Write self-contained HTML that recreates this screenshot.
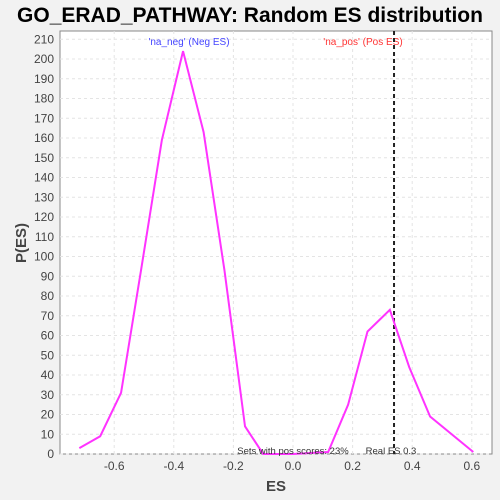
<!DOCTYPE html>
<html><head><meta charset="utf-8"><style>
body{margin:0;background:#f2f2f2;font-family:"Liberation Sans",sans-serif}
</style></head><body>
<svg id="chart" width="500" height="500" xmlns="http://www.w3.org/2000/svg" style="display:block">
<rect width="500" height="500" fill="#f2f2f2"/>
<text x="250" y="22" text-anchor="middle" font-size="21" font-weight="bold" fill="#000">GO_ERAD_PATHWAY: Random ES distribution</text>
<rect x="60" y="31" width="432" height="423" fill="#fff" stroke="#888"/>
<g id="grid"></g><g id="ticks"></g>
<text x="276" y="491" text-anchor="middle" font-size="15" font-weight="bold" fill="#444">ES</text>
<text transform="translate(26,243) rotate(-90)" text-anchor="middle" font-size="15" font-weight="bold" fill="#444">P(ES)</text>
<text x="189" y="45" text-anchor="middle" font-size="10" fill="#4444ff">'na_neg' (Neg ES)</text>
<text x="363" y="45" text-anchor="middle" font-size="10" fill="#ff3333">'na_pos' (Pos ES)</text>
<g id="marks"></g>
<text x="293" y="454" text-anchor="middle" font-size="9.5" fill="#333">Sets with pos scores: 23%</text>
<text x="391" y="454" text-anchor="middle" font-size="9.5" fill="#333">Real ES 0.3</text>
</svg>
<script>
const esValues=[-0.717,-0.647,-0.577,-0.51,-0.44,-0.369,-0.30,-0.23,-0.161,-0.10,0.0,0.118,0.185,0.25,0.325,0.39,0.46,0.605];
const probValues=[3,9,31,93,159,204,163,93,14,0,0,1,25,62,73,44,19,1];
const xTicks=[-0.6,-0.4,-0.2,0.0,0.2,0.4,0.6];
const yTicks=[0,10,20,30,40,50,60,70,80,90,100,110,120,130,140,150,160,170,180,190,200,210];
const realES=0.339;
const NS="http://www.w3.org/2000/svg";
const xs=v=>293+v*298, ys=v=>454-v*1.975;
function mk(t,a,p){const e=document.createElementNS(NS,t);for(const k in a)e.setAttribute(k,a[k]);document.getElementById(p).appendChild(e);return e;}
xTicks.forEach(t=>{
 const g=mk('line',{x1:xs(t),x2:xs(t),y1:31,y2:454,stroke:'#e4e4e4','stroke-dasharray':'3,3'},'grid');
 
 
 const l=mk('text',{x:xs(t),y:470,'text-anchor':'middle','font-size':12,fill:'#444'},'ticks');
 l.textContent=t.toFixed(1);
 
 
});
yTicks.forEach(t=>{
 const g=mk('line',{x1:60,x2:492,y1:ys(t),y2:ys(t),stroke:'#e4e4e4','stroke-dasharray':'3,3'},'grid');
 
 
 const l=mk('text',{x:54,y:ys(t)+4,'text-anchor':'end','font-size':12,fill:'#444'},'ticks');
 l.textContent=t;
 
 
});
const rl=mk('line',{x1:xs(realES),x2:xs(realES),y1:31,y2:454,stroke:'#222','stroke-width':2,'stroke-dasharray':'4,3'},'marks');


const pl=mk('polyline',{points:esValues.map((v,i)=>xs(v)+','+ys(probValues[i])).join(' '),fill:'none',stroke:'#ff33ff','stroke-width':2},'marks');


</script>
</body></html>
